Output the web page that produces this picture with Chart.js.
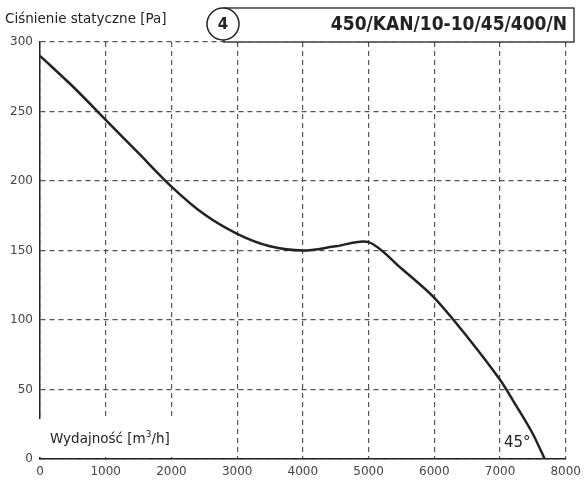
<!DOCTYPE html>
<html>
<head>
<meta charset="utf-8">
<script src="https://cdn.jsdelivr.net/npm/chart.js@4/dist/chart.umd.min.js"></script>
<style>
  html, body { margin: 0; padding: 0; background: #fff; }
  #wrap { width: 587px; height: 482px; }
</style>
</head>
<body>
<div id="wrap"><canvas id="fan-chart" width="587" height="482"></canvas></div>
<script>
// flow [m3/h] and static pressure [Pa]
const flow = [0, 500, 1000, 1500, 2000, 2500, 3000, 3500, 4000, 4500, 5000, 5500, 6000, 6500, 7000, 7250, 7500, 7680];
const pressure = [290, 268, 244, 220, 196, 176, 162, 153, 150, 153, 156, 137, 116, 88, 57, 38, 18, 0];
const xTicks = [0, 1000, 2000, 3000, 4000, 5000, 6000, 7000, 8000];
const yTicks = [0, 50, 100, 150, 200, 250, 300];

const yTitle = 'Ciśnienie statyczne [Pa]';
const xTitle = 'Wydajność [m';
const modelNo = '4';
const modelName = '450/KAN/10-10/45/400/N';
const angleLabel = '45°';

const font = '"DejaVu Sans", sans-serif';

const decorations = {
  id: 'decorations',
  afterDraw(chart) {
    const { ctx, chartArea } = chart;
    const { left, top, bottom } = chartArea;
    ctx.save();

    // white patch behind x title (axis and grid stop there)
    ctx.fillStyle = '#fff';
    ctx.fillRect(left - 3, bottom - 40, 150, 38);

    ctx.fillStyle = '#222';
    ctx.font = '13.5px ' + font;
    ctx.textBaseline = 'alphabetic';
    ctx.textAlign = 'left';
    ctx.fillText(yTitle, 5, 23);

    // x title with superscript
    ctx.font = '13.5px ' + font;
    ctx.fillText(xTitle, 50, bottom - 16);
    const w = ctx.measureText(xTitle).width;
    ctx.font = '9px ' + font;
    ctx.fillText('3', 50 + w, bottom - 22);
    const w3 = ctx.measureText('3').width;
    ctx.font = '13.5px ' + font;
    ctx.fillText('/h]', 50 + w + w3, bottom - 16);

    // 45 deg label
    ctx.font = '15px ' + font;
    ctx.fillText(angleLabel, 504, bottom - 12);

    // title box
    ctx.fillStyle = '#fff';
    ctx.fillRect(224, 8, 350, top - 8);
    ctx.strokeStyle = '#222';
    ctx.lineWidth = 1.3;
    ctx.strokeRect(224, 8, 350, top - 8);
    // circle with number
    ctx.beginPath();
    ctx.arc(223, 24, 16, 0, Math.PI * 2);
    ctx.fill();
    ctx.lineWidth = 1.5;
    ctx.stroke();
    ctx.fillStyle = '#222';
    ctx.textAlign = 'center';
    ctx.textBaseline = 'middle';
    ctx.font = 'bold 15px ' + font;
    ctx.fillText(modelNo, 223, 25);
    ctx.textAlign = 'right';
    ctx.font = 'bold 19px "DejaVu Sans Condensed", ' + font;
    ctx.fillText(modelName, 567, 25);
    ctx.restore();
  }
};

new Chart(document.getElementById('fan-chart'), {
  type: 'line',
  data: {
    labels: flow,
    datasets: [{
      data: flow.map((x, i) => ({ x, y: pressure[i] })),
      borderColor: '#222',
      borderWidth: 2.5,
      pointRadius: 0,
      tension: 0.3,
      fill: false
    }]
  },
  options: {
    responsive: false,
    animation: false,
    layout: { padding: { top: 42, right: 18, left: 0, bottom: 0 } },
    plugins: { legend: { display: false }, tooltip: { enabled: false } },
    scales: {
      x: {
        type: 'linear',
        min: 0,
        max: 8000,
        afterBuildTicks(scale) { scale.ticks = xTicks.map(v => ({ value: v })); },
        afterFit(scale) { scale.height = 23; },
        grid: { color: '#555', lineWidth: 1.2, drawTicks: false },
        border: { display: true, color: '#222', width: 1.5, dash: [5, 4] },
        ticks: {
          color: '#444', font: { size: 12, family: font }, padding: 6, maxRotation: 0,
          callback: (v) => String(v)
        }
      },
      y: {
        min: 0,
        max: 300,
        afterBuildTicks(scale) { scale.ticks = yTicks.map(v => ({ value: v })); },
        afterFit(scale) { scale.width = 40; },
        grid: { color: '#555', lineWidth: 1.2, drawTicks: false },
        border: { display: true, color: '#222', width: 1.5, dash: [5, 4] },
        ticks: {
          color: '#444', font: { size: 12, family: font }, padding: 7,
          callback: (v) => String(v)
        }
      }
    }
  },
  plugins: [decorations]
});
</script>
</body>
</html>
